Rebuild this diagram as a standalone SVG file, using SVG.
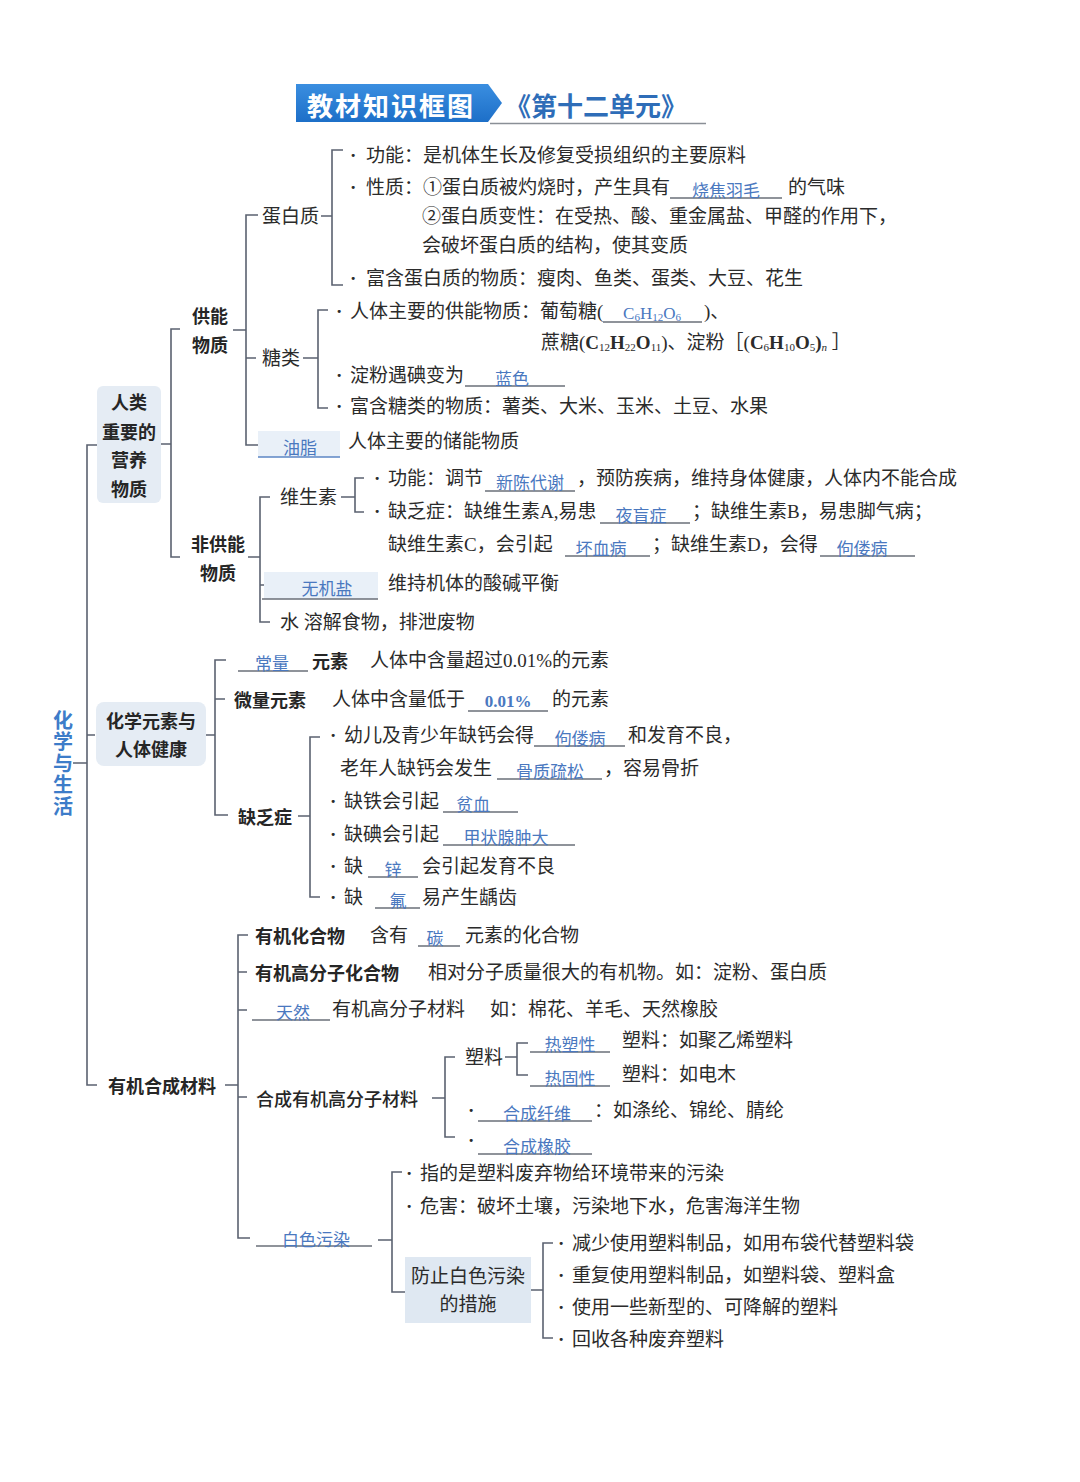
<svg xmlns="http://www.w3.org/2000/svg" width="1080" height="1482" viewBox="0 0 1080 1482">
<defs>
<style>
.t{font-family:"Liberation Serif","Noto Sans CJK SC",serif;font-size:19px;fill:#2b2b2b;dominant-baseline:central}
.b{font-family:"Noto Sans CJK SC",sans-serif;font-size:18px;font-weight:700;fill:#262626;dominant-baseline:central}
.a{font-family:"Noto Sans CJK SC",sans-serif;font-size:17px;fill:#4a78bf;dominant-baseline:central;text-anchor:middle}
.af{font-family:"Liberation Serif",serif;font-size:17px;fill:#4a78bf;dominant-baseline:central;text-anchor:middle}
.ln{stroke:#5b6270;stroke-width:1.6;fill:none}
.ul{stroke:#6a6f78;stroke-width:1.3}
.box{fill:#e5ecf4}
.hl{fill:#e9f0f8}
.dot{font-weight:700}
</style>
<linearGradient id="bn" x1="0" y1="0" x2="0" y2="1"><stop offset="0" stop-color="#3a8ee0"/><stop offset="1" stop-color="#1d6fc8"/></linearGradient>
</defs>
<rect width="1080" height="1482" fill="#ffffff"/>

<g id="title">
<polygon points="296,84 488,84 502,103 488,122 296,122" fill="url(#bn)"/>
<text x="307" y="104" style="font-family:'Noto Sans CJK SC',sans-serif;font-size:26px;font-weight:700;fill:#fff;dominant-baseline:central;letter-spacing:2px">教材知识框图</text>
<text x="505" y="104" style="font-family:'Noto Sans CJK SC',sans-serif;font-size:26px;font-weight:700;fill:#2e6db8;dominant-baseline:central">《第十二单元》</text>
<line x1="490" y1="123.5" x2="706" y2="123.5" stroke="#8a8f96" stroke-width="1.5"/>
</g>

<g id="connectors">
<path class="ln" d="M97,445 H87 V1085 H97 M73,763 H87 M87,735 H95"/>
<path class="ln" d="M180,329 H171 V557 H180 M160,444 H171"/>
<path class="ln" d="M258,215 H246 V445 H258 M233,330 H246 M246,358 H256"/>
<path class="ln" d="M343,150 H332 V285 H343 M321,216 H332"/>
<path class="ln" d="M328,310 H318 V408 H328 M303,358 H318"/>
<path class="ln" d="M270,497 H260 V622 H270 M248,557 H260 M260,585 H268"/>
<path class="ln" d="M364,478 H355 V512 H364 M341,497 H355"/>
<path class="ln" d="M226,660 H215 V815 H228 M205,735 H215 M215,699 H225"/>
<path class="ln" d="M320,737 H310 V897 H320 M298,816 H310"/>
<path class="ln" d="M248,935 H238 V1238 H250 M225,1085 H238 M238,972 H247 M238,1010 H247 M238,1097 H247"/>
<path class="ln" d="M455,1057 H445 V1137 H455 M432,1098 H445"/>
<path class="ln" d="M528,1043 H517 V1075 H528 M505,1057 H517"/>
<path class="ln" d="M402,1172 H392 V1292 H405 M378,1240 H392"/>
<path class="ln" d="M553,1243 H543 V1338 H553 M531,1290 H543"/>
</g>

<g id="root">
<text x="63" y="710" style="font-family:'Noto Sans CJK SC',sans-serif;font-size:20px;font-weight:700;fill:#3d7cc9;writing-mode:vertical-rl;letter-spacing:1.5px">化学与生活</text>
</g>

<g id="n-nutrition">
<rect class="box" x="97" y="386" width="64" height="117" rx="6"/>
<text class="b" text-anchor="middle"><tspan x="129" y="401">人类</tspan><tspan x="129" y="431">重要的</tspan><tspan x="129" y="459">营养</tspan><tspan x="129" y="488">物质</tspan></text>
</g>

<g id="n-energy">
<text class="b" text-anchor="middle"><tspan x="210" y="315">供能</tspan><tspan x="210" y="344">物质</tspan></text>
</g>

<g id="n-protein">
<text class="t" x="262" y="216">蛋白质</text>
<text class="t" x="350" y="155"><tspan class="dot">·</tspan><tspan x="366">功能：是机体生长及修复受损组织的主要原料</tspan></text>
<text class="t" x="350" y="187"><tspan class="dot">·</tspan><tspan x="366">性质：①蛋白质被灼烧时，产生具有</tspan></text>
<line class="ul" x1="670" y1="198" x2="782" y2="198"/>
<text class="a" x="726" y="189">烧焦羽毛</text>
<text class="t" x="788" y="187">的气味</text>
<text class="t" x="422" y="216">②蛋白质变性：在受热、酸、重金属盐、甲醛的作用下，</text>
<text class="t" x="422" y="245">会破坏蛋白质的结构，使其变质</text>
<text class="t" x="350" y="278"><tspan class="dot">·</tspan><tspan x="366">富含蛋白质的物质：瘦肉、鱼类、蛋类、大豆、花生</tspan></text>
</g>

<g id="n-sugar">
<text class="t" x="262" y="358">糖类</text>
<text class="t" x="336" y="311"><tspan class="dot">·</tspan><tspan x="350">人体主要的供能物质：葡萄糖(</tspan></text>
<line class="ul" x1="603" y1="322" x2="702" y2="322"/>
<text class="af" x="652" y="313">C<tspan font-size="11" dy="4">6</tspan><tspan dy="-4">H</tspan><tspan font-size="11" dy="4">12</tspan><tspan dy="-4">O</tspan><tspan font-size="11" dy="4">6</tspan></text>
<text class="t" x="704" y="311">)、</text>
<text class="t" x="541" y="342">蔗糖(<tspan font-weight="700">C</tspan><tspan font-size="11" dy="5">12</tspan><tspan dy="-5" font-weight="700">H</tspan><tspan font-size="11" dy="5">22</tspan><tspan dy="-5" font-weight="700">O</tspan><tspan font-size="11" dy="5">11</tspan><tspan dy="-5">)、淀粉［(</tspan><tspan font-weight="700">C</tspan><tspan font-size="11" dy="5">6</tspan><tspan dy="-5" font-weight="700">H</tspan><tspan font-size="11" dy="5">10</tspan><tspan dy="-5" font-weight="700">O</tspan><tspan font-size="11" dy="5">5</tspan><tspan dy="-5" font-weight="700">)</tspan><tspan font-size="11" dy="5" font-style="italic">n</tspan><tspan dy="-5"> ］</tspan></text>
<text class="t" x="336" y="375"><tspan class="dot">·</tspan><tspan x="350">淀粉遇碘变为</tspan></text>
<line class="ul" x1="465" y1="386" x2="565" y2="386"/>
<text class="a" x="512" y="377">蓝色</text>
<text class="t" x="336" y="406"><tspan class="dot">·</tspan><tspan x="350">富含糖类的物质：薯类、大米、玉米、土豆、水果</tspan></text>
</g>

<g id="n-fat">
<rect class="hl" x="258" y="431" width="82" height="26"/>
<line x1="258" y1="457" x2="340" y2="457" stroke="#5b86c4" stroke-width="1.4"/>
<text class="a" x="300" y="446">油脂</text>
<text class="t" x="348" y="441">人体主要的储能物质</text>
</g>

<g id="n-nonenergy">
<text class="b" text-anchor="middle"><tspan x="218" y="543">非供能</tspan><tspan x="218" y="572">物质</tspan></text>
</g>

<g id="n-vitamin">
<text class="t" x="280" y="497">维生素</text>
<text class="t" x="374" y="478"><tspan class="dot">·</tspan><tspan x="388">功能：调节</tspan></text>
<line class="ul" x1="485" y1="491" x2="575" y2="491"/>
<text class="a" x="530" y="481">新陈代谢</text>
<text class="t" x="577" y="478">，预防疾病，维持身体健康，人体内不能合成</text>
<text class="t" x="374" y="511"><tspan class="dot">·</tspan><tspan x="388">缺乏症：缺维生素A,易患</tspan></text>
<line class="ul" x1="600" y1="523" x2="690" y2="523"/>
<text class="a" x="641" y="514">夜盲症</text>
<text class="t" x="692" y="511">；缺维生素B，易患脚气病；</text>
<text class="t" x="388" y="544">缺维生素C，会引起</text>
<line class="ul" x1="565" y1="556" x2="650" y2="556"/>
<text class="a" x="601" y="547">坏血病</text>
<text class="t" x="652" y="544">；缺维生素D，会得</text>
<line class="ul" x1="820" y1="556" x2="915" y2="556"/>
<text class="a" x="862" y="547">佝偻病</text>
</g>

<g id="n-salt">
<rect class="hl" x="264" y="572" width="114" height="27"/>
<line class="ul" x1="262" y1="599" x2="378" y2="599"/>
<text class="a" x="327" y="587">无机盐</text>
<text class="t" x="388" y="583">维持机体的酸碱平衡</text>
</g>

<g id="n-water">
<text class="t" x="280" y="622">水 溶解食物，排泄废物</text>
</g>

<g id="n-elements">
<rect class="box" x="96" y="702" width="110" height="64" rx="8"/>
<text class="b" text-anchor="middle"><tspan x="151" y="720">化学元素与</tspan><tspan x="151" y="748">人体健康</tspan></text>
</g>

<g id="n-macro">
<line class="ul" x1="238" y1="671" x2="308" y2="671"/>
<text class="a" x="272" y="662">常量</text>
<text class="b" x="312" y="660">元素</text>
<text class="t" x="370" y="660">人体中含量超过0.01%的元素</text>
</g>

<g id="n-micro">
<text class="b" x="234" y="699">微量元素</text>
<text class="t" x="332" y="699">人体中含量低于</text>
<line class="ul" x1="468" y1="711" x2="548" y2="711"/>
<text class="af" x="508" y="701" font-weight="700">0.01%</text>
<text class="t" x="552" y="699">的元素</text>
</g>

<g id="n-deficiency">
<text class="b" x="238" y="816">缺乏症</text>
<text class="t" x="330" y="735"><tspan class="dot">·</tspan><tspan x="344">幼儿及青少年缺钙会得</tspan></text>
<line class="ul" x1="534" y1="746" x2="625" y2="746"/>
<text class="a" x="580" y="737">佝偻病</text>
<text class="t" x="628" y="735">和发育不良，</text>
<text class="t" x="340" y="768">老年人缺钙会发生</text>
<line class="ul" x1="497" y1="779" x2="602" y2="779"/>
<text class="a" x="550" y="770">骨质疏松</text>
<text class="t" x="604" y="768">，容易骨折</text>
<text class="t" x="330" y="801"><tspan class="dot">·</tspan><tspan x="344">缺铁会引起</tspan></text>
<line class="ul" x1="443" y1="812" x2="518" y2="812"/>
<text class="a" x="473" y="803">贫血</text>
<text class="t" x="330" y="834"><tspan class="dot">·</tspan><tspan x="344">缺碘会引起</tspan></text>
<line class="ul" x1="443" y1="845" x2="575" y2="845"/>
<text class="a" x="506" y="836">甲状腺肿大</text>
<text class="t" x="330" y="866"><tspan class="dot">·</tspan><tspan x="344">缺</tspan></text>
<line class="ul" x1="368" y1="877" x2="418" y2="877"/>
<text class="a" x="393" y="868">锌</text>
<text class="t" x="422" y="866">会引起发育不良</text>
<text class="t" x="330" y="897"><tspan class="dot">·</tspan><tspan x="344">缺</tspan></text>
<line class="ul" x1="375" y1="908" x2="420" y2="908"/>
<text class="a" x="398" y="899">氟</text>
<text class="t" x="422" y="897">易产生龋齿</text>
</g>

<g id="n-synthetic">
<text class="b" x="108" y="1085">有机合成材料</text>
</g>

<g id="n-organic">
<text class="b" x="255" y="935">有机化合物</text>
<text class="t" x="370" y="935">含有</text>
<line class="ul" x1="418" y1="946" x2="460" y2="946"/>
<text class="a" x="435" y="937">碳</text>
<text class="t" x="465" y="935">元素的化合物</text>
</g>

<g id="n-polymer">
<text class="b" x="255" y="972">有机高分子化合物</text>
<text class="t" x="428" y="972">相对分子质量很大的有机物。如：淀粉、蛋白质</text>
</g>

<g id="n-natural">
<line class="ul" x1="252" y1="1020" x2="330" y2="1020"/>
<text class="a" x="293" y="1011">天然</text>
<text class="t" x="332" y="1009">有机高分子材料</text>
<text class="t" x="490" y="1009">如：棉花、羊毛、天然橡胶</text>
</g>

<g id="n-synpolymer">
<text class="b" x="256" y="1098" style="font-weight:500">合成有机高分子材料</text>
<text class="t" x="465" y="1057">塑料</text>
<line class="ul" x1="530" y1="1052" x2="610" y2="1052"/>
<text class="a" x="570" y="1043">热塑性</text>
<text class="t" x="622" y="1040">塑料：如聚乙烯塑料</text>
<line class="ul" x1="530" y1="1086" x2="610" y2="1086"/>
<text class="a" x="570" y="1077">热固性</text>
<text class="t" x="622" y="1074">塑料：如电木</text>
<text class="t dot" x="468" y="1110">·</text>
<line class="ul" x1="478" y1="1121" x2="592" y2="1121"/>
<text class="a" x="537" y="1112">合成纤维</text>
<text class="t" x="594" y="1110">：如涤纶、锦纶、腈纶</text>
<text class="t dot" x="468" y="1140">·</text>
<line class="ul" x1="478" y1="1154" x2="592" y2="1154"/>
<text class="a" x="537" y="1145">合成橡胶</text>
</g>

<g id="n-white">
<line class="ul" x1="256" y1="1246" x2="372" y2="1246"/>
<text class="a" x="316" y="1238">白色污染</text>
<text class="t" x="406" y="1173"><tspan class="dot">·</tspan><tspan x="420">指的是塑料废弃物给环境带来的污染</tspan></text>
<text class="t" x="406" y="1206"><tspan class="dot">·</tspan><tspan x="420">危害：破坏土壤，污染地下水，危害海洋生物</tspan></text>
</g>

<g id="n-measures">
<rect x="405" y="1257" width="126" height="66" fill="#dfe8f2"/>
<text class="t" text-anchor="middle"><tspan x="468" y="1276">防止白色污染</tspan><tspan x="468" y="1304">的措施</tspan></text>
<text class="t" x="558" y="1243"><tspan class="dot">·</tspan><tspan x="572">减少使用塑料制品，如用布袋代替塑料袋</tspan></text>
<text class="t" x="558" y="1275"><tspan class="dot">·</tspan><tspan x="572">重复使用塑料制品，如塑料袋、塑料盒</tspan></text>
<text class="t" x="558" y="1307"><tspan class="dot">·</tspan><tspan x="572">使用一些新型的、可降解的塑料</tspan></text>
<text class="t" x="558" y="1339"><tspan class="dot">·</tspan><tspan x="572">回收各种废弃塑料</tspan></text>
</g>
</svg>
